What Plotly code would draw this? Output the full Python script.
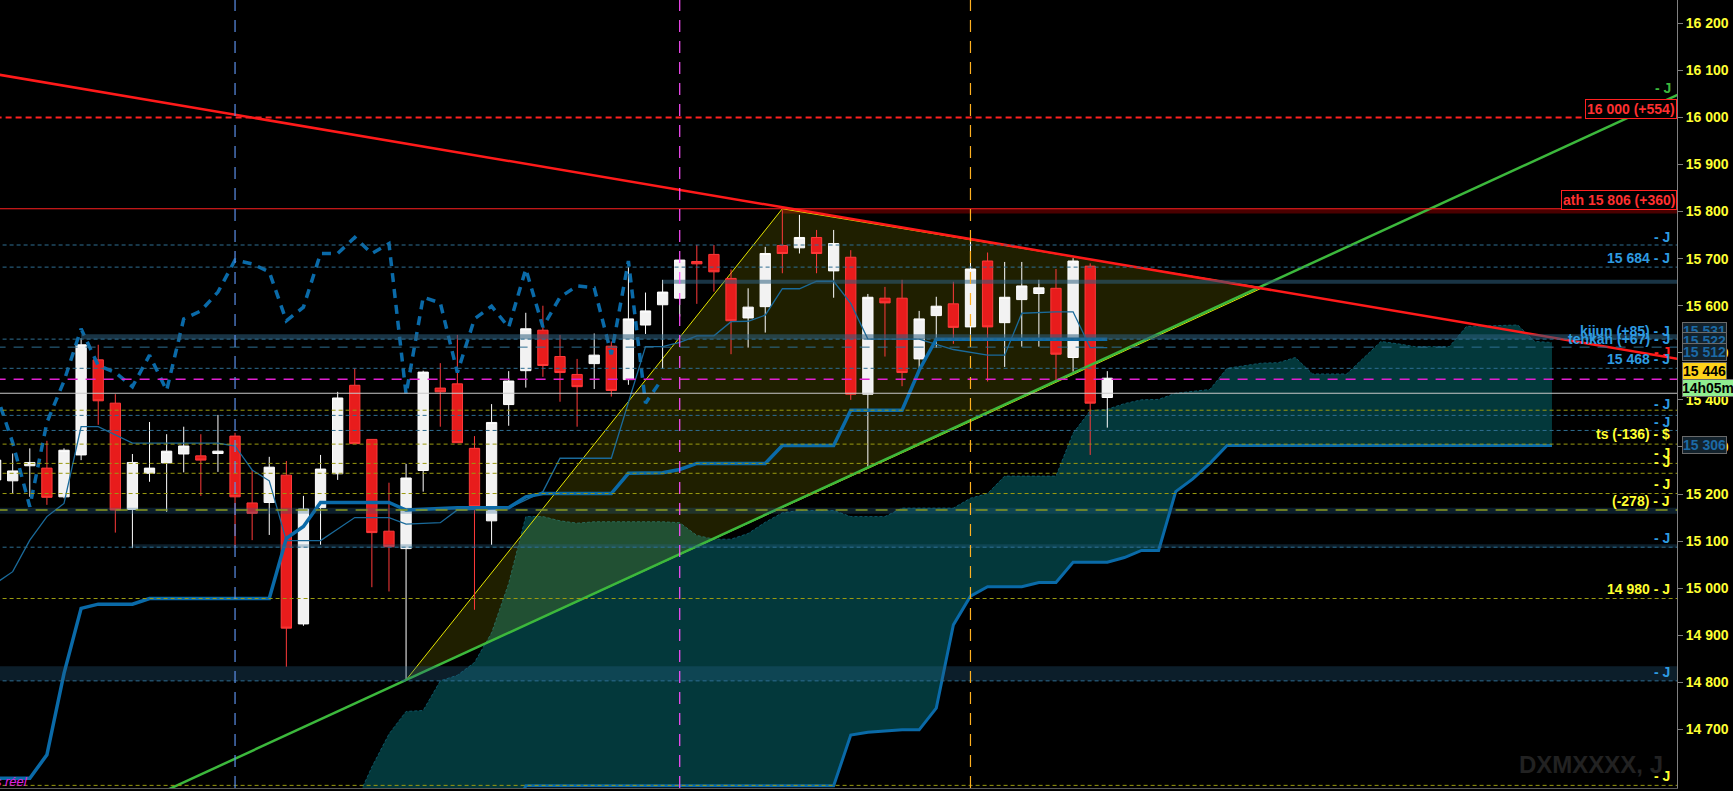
import plotly.graph_objects as go

# daily candles, index 0 = the bar cut off at the left edge
opens = [15230, 15228, 15260, 15255, 15194, 15283, 15485, 15393, 15167, 15244,
         15266, 15285, 15281, 15286, 15323, 15181, 15182, 15240, 14924, 15171,
         15243, 15431, 15316, 15121, 15084, 15250, 15425, 15434, 15297, 15143,
         15390, 15462, 15548, 15492, 15454, 15477, 15514, 15443, 15559, 15602,
         15616, 15694, 15709, 15658, 15574, 15598, 15728, 15723, 15745, 15674,
         15703, 15412, 15616, 15616, 15487, 15579, 15604, 15555, 15695, 15564,
         15613, 15626, 15637, 15490, 15684, 15405]
highs = [15290, 15286, 15297, 15313, 15297, 15531, 15517, 15412, 15285, 15353,
         15327, 15343, 15327, 15368, 15330, 15251, 15279, 15270, 15196, 15283,
         15417, 15467, 15316, 15224, 15264, 15462, 15478, 15538, 15323, 15391,
         15461, 15585, 15600, 15538, 15487, 15541, 15524, 15682, 15628, 15655,
         15697, 15729, 15729, 15677, 15637, 15725, 15803, 15793, 15761, 15761,
         15718, 15625, 15640, 15655, 15589, 15619, 15651, 15736, 15713, 15693,
         15693, 15655, 15678, 15701, 15690, 15461]
lows = [15220, 15201, 15194, 15177, 15191, 15272, 15347, 15118, 15085, 15226,
        15162, 15246, 15196, 15247, 15088, 15102, 15113, 14833, 14920, 15092,
        15230, 15307, 15002, 14993, 14805, 15205, 15343, 15309, 14954, 15092,
        15345, 15426, 15449, 15396, 15343, 15423, 15407, 15432, 15540, 15466,
        15577, 15604, 15630, 15497, 15511, 15543, 15669, 15711, 15669, 15617,
        15400, 15258, 15492, 15429, 15463, 15511, 15519, 15534, 15439, 15470,
        15513, 15513, 15442, 15460, 15283, 15341]
closes = [15272, 15249, 15267, 15193, 15293, 15517, 15398, 15166, 15267, 15255,
          15291, 15302, 15272, 15291, 15194, 15159, 15257, 14915, 15168, 15253,
          15404, 15307, 15118, 15088, 15234, 15459, 15417, 15309, 15173, 15352,
          15440, 15551, 15473, 15458, 15428, 15495, 15420, 15572, 15589, 15629,
          15697, 15689, 15672, 15568, 15597, 15711, 15711, 15745, 15711, 15732,
          15412, 15618, 15606, 15458, 15572, 15599, 15554, 15678, 15555, 15618,
          15642, 15638, 15497, 15695, 15393, 15446]
bars = list(range(len(opens)))

# ichimoku lines (bar index, value)
tenkan_x = [0, 1, 2, 3, 4, 5, 6, 8, 13, 14, 15, 16, 17, 19, 21, 23, 24, 26, 27, 30,
            32, 33, 36, 38, 39, 40, 41, 42, 43, 44, 45, 46, 47, 48, 49, 50, 51, 54,
            56, 58, 59, 60, 62, 63, 64, 65]
tenkan_y = [15010, 15035, 15102, 15152, 15180, 15343, 15343, 15308, 15308, 15302,
            15251, 15228, 15101, 15101, 15150, 15150, 15136, 15139, 15166, 15170,
            15205, 15276, 15276, 15513, 15513, 15522, 15536, 15536, 15566, 15567,
            15580, 15636, 15636, 15652, 15652, 15605, 15529, 15529, 15507, 15495,
            15495, 15584, 15587, 15587, 15511, 15511]
kijun_x = [0, 2, 3, 4, 5, 6, 8, 9, 16, 17, 18, 19, 23, 24, 27, 30, 31, 32, 36, 37,
           39, 40, 41, 45, 46, 49, 50, 53, 54, 55, 65]
kijun_y = [14596, 14596, 14646, 14819, 14957, 14966, 14966, 14978, 14978, 15106,
           15131, 15182, 15182, 15166, 15171, 15171, 15194, 15201, 15201, 15244,
           15245, 15252, 15265, 15265, 15303, 15303, 15378, 15378, 15463, 15529,
           15529]
span_a_x = [21, 22, 23, 24, 25, 26, 27, 28, 29, 30, 31, 32, 33, 34, 35, 39, 40, 41,
            42, 43, 44, 45, 46, 47, 49, 50, 52, 53, 56, 57, 58, 59, 62, 63, 64, 65,
            66, 67, 68, 69, 71, 72, 74, 75, 76, 77, 79, 81, 82, 83, 85, 86, 89, 90, 91]
span_a_y = [14540, 14620, 14690, 14738, 14740, 14803, 14815, 14842, 14905, 15010,
            15152, 15152, 15143, 15138, 15141, 15141, 15139, 15112, 15104, 15104,
            15116, 15140, 15160, 15165, 15165, 15152, 15152, 15170, 15170, 15191,
            15201, 15238, 15238, 15329, 15377, 15380, 15392, 15400, 15401, 15414,
            15422, 15467, 15478, 15479, 15490, 15455, 15455, 15524, 15519, 15513,
            15513, 15556, 15559, 15524, 15522]
span_b_x = [21, 30, 31, 49, 50, 51, 53, 54, 55, 56, 57, 58, 60, 61, 62, 63, 65, 66,
            67, 68, 69, 70, 71, 72, 91]
span_b_y = [14450, 14500, 14580, 14580, 14688, 14694, 14699, 14699, 14745, 14922,
            14983, 15003, 15003, 15012, 15012, 15055, 15055, 15065, 15080, 15080,
            15205, 15232, 15265, 15303, 15303]

# drawings
ath = 15806
target = 16000
red_trend_x = [0, 98.4]
red_trend_y = [16092, 15487]
green_trend_x = [9, 98.4]
green_trend_y = [14554, 16049]
triangle_x = [24, 46, 74.06, 24]
triangle_y = [14805, ath, 15638, 14805]
event_bars = [14, 40, 57]
event_colors = ["#5b8fe8", "#ff50ff", "#ffb020"]

blue_levels = [15729, 15682, 15529, 15467, 15367, 15335, 15087, 14803]
yellow_levels = [15378, 15306, 15265, 15244, 15201, 14978, 14581]
grey_level = 15414
magenta_level = 15444
blue_long_level = 15512
green_long_level = 15166

right_labels = [
    ("- J", 15745, "#2e9be0"), ("15 684 - J", 15701, "#2e9be0"),
    ("kijun (+85) - J", 15546, "#2e9be0"), ("tenkan (+67) - J", 15529, "#2e9be0"),
    ("- J", 15502, "#ff2020"), ("15 468 - J", 15487, "#2e9be0"),
    ("- J", 15391, "#2e9be0"), ("- J", 15354, "#2e9be0"),
    ("ts (-136) - $", 15327, "#ffff30"), ("- J", 15288, "#ffff30"),
    ("- J", 15267, "#ffff30"), ("- J", 15222, "#ffff30"),
    ("(-278) - J", 15185, "#ffff30"), ("- J", 15107, "#2e9be0"),
    ("14 980 - J", 14998, "#ffff30"), ("- J", 14822, "#2e9be0"),
    ("- J", 14601, "#ffff30"),
]
axis_boxes = [
    ("15 531", 15546, "#1c6aa5", "#13222c"), ("15 522", 15524, "#1c6aa5", "#13222c"),
    ("15 512", 15502, "#1c6aa5", "#13222c"), ("15 446", 15461, "#000000", "#ffd21a"),
    ("14h05m", 15425, "#000000", "#90ee90"), ("15 306", 15304, "#1c6aa5", "#13222c"),
]
tick_vals = list(range(14700, 16201, 100))
tick_text = [f"{v // 1000} {v % 1000:03d}" for v in tick_vals]

x_range = [0.2573, 98.31]
y_range = [14575.4, 16249.5]
x_end = x_range[1]
fig = go.Figure()

# cloud and triangle on the base axes (under the candles)
fig.add_trace(go.Scatter(x=span_b_x, y=span_b_y, mode="lines",
                         line=dict(color="#0a6aa8", width=3), hoverinfo="skip"))
fig.add_trace(go.Scatter(x=span_a_x, y=span_a_y, mode="lines", fill="tonexty",
                         fillcolor="#03383b", line=dict(color="#0d5566", width=1, dash="3px,2px"),
                         hoverinfo="skip"))
fig.add_trace(go.Scatter(x=triangle_x, y=triangle_y, mode="lines", fill="toself",
                         fillcolor="rgba(255,255,0,0.12)",
                         line=dict(color="#e6e600", width=1), hoverinfo="skip"))

# candles and lines on an overlay so they sit above the fills
fig.add_trace(go.Candlestick(
    x=bars, open=opens, high=highs, low=lows, close=closes, xaxis="x2", yaxis="y2",
    increasing=dict(fillcolor="#f2f2f2", line=dict(color="#ffffff", width=1)),
    decreasing=dict(fillcolor="#e81c1c", line=dict(color="#ff3a3a", width=1)),
    whiskerwidth=0, hoverinfo="skip"))
fig.add_trace(go.Scatter(x=green_trend_x, y=green_trend_y, mode="lines", xaxis="x2", yaxis="y2",
                         line=dict(color="#3cb83c", width=2.5), hoverinfo="skip"))
fig.add_trace(go.Scatter(x=red_trend_x, y=red_trend_y, mode="lines", xaxis="x2", yaxis="y2",
                         line=dict(color="#ff1a1a", width=2.5), hoverinfo="skip"))
fig.add_trace(go.Scatter(x=bars[:len(closes) - 26], y=closes[26:], mode="lines",
                         xaxis="x2", yaxis="y2",
                         line=dict(color="#0a6aa8", width=3.5, dash="9px,7px"),
                         hoverinfo="skip"))
fig.add_trace(go.Scatter(x=tenkan_x, y=tenkan_y, mode="lines", xaxis="x2", yaxis="y2",
                         line=dict(color="#1a6a9a", width=1.3), hoverinfo="skip"))
fig.add_trace(go.Scatter(x=kijun_x, y=kijun_y, mode="lines", xaxis="x2", yaxis="y2",
                         line=dict(color="#0a6aa8", width=3.5), hoverinfo="skip"))

shapes = []
# bands
shapes.append(dict(type="rect", x0=46, x1=x_end, y0=ath - 10, y1=ath, line_width=0,
                   fillcolor="#4a0000", layer="below"))
shapes.append(dict(type="line", x0=5, x1=x_end, y0=15534, y1=15534,
                   line=dict(color="rgba(45,95,125,0.55)", width=5)))
shapes.append(dict(type="line", x0=39, x1=x_end, y0=15651, y1=15651,
                   line=dict(color="rgba(45,95,125,0.55)", width=4)))
shapes.append(dict(type="rect", x0=0, x1=x_end, y0=15158, y1=15171, line_width=0,
                   fillcolor="rgba(40,100,140,0.3)"))
shapes.append(dict(type="rect", x0=8, x1=x_end, y0=15086, y1=15093, line_width=0,
                   fillcolor="rgba(40,100,140,0.3)"))
shapes.append(dict(type="rect", x0=0, x1=x_end, y0=14803, y1=14834, line_width=0,
                   fillcolor="rgba(40,100,140,0.3)"))
# levels
for v in blue_levels:
    shapes.append(dict(type="line", x0=0, x1=x_end, y0=v, y1=v,
                       line=dict(color="#2e6e92", width=1, dash="4px,3px")))
for v in yellow_levels:
    shapes.append(dict(type="line", x0=0, x1=x_end, y0=v, y1=v,
                       line=dict(color="#9a9a10", width=1, dash="4px,3px")))
shapes.append(dict(type="line", x0=0, x1=x_end, y0=blue_long_level, y1=blue_long_level,
                   line=dict(color="#2e6e92", width=1, dash="10px,8px")))
shapes.append(dict(type="line", x0=0, x1=x_end, y0=green_long_level, y1=green_long_level,
                   line=dict(color="#8a9a20", width=1.5, dash="12px,8px")))
shapes.append(dict(type="line", x0=0, x1=x_end, y0=magenta_level, y1=magenta_level,
                   line=dict(color="#e020d0", width=1.5, dash="10px,8px")))
shapes.append(dict(type="line", x0=0, x1=x_end, y0=grey_level, y1=grey_level,
                   line=dict(color="#c8c8c8", width=1.2)))
shapes.append(dict(type="line", x0=0, x1=x_end, y0=ath, y1=ath,
                   line=dict(color="#ff2020", width=1)))
shapes.append(dict(type="line", x0=0, x1=x_end, y0=target, y1=target,
                   line=dict(color="#ff2020", width=2, dash="6px,4px")))
for b, c in zip(event_bars, event_colors):
    shapes.append(dict(type="line", x0=b, x1=b, y0=0, y1=1, yref="paper",
                       line=dict(color=c, width=1.2, dash="12px,9px")))

annotations = []
for text, v, c in right_labels:
    annotations.append(dict(x=1, xref="paper", xanchor="right", xshift=-5, y=v,
                            yref="y", text=text, showarrow=False,
                            font=dict(color=c, size=14, family="Liberation Sans", weight="bold")))
annotations.append(dict(x=1, xref="paper", xanchor="right", xshift=-4, y=16062, yref="y",
                        text="- J", showarrow=False,
                        font=dict(color="#3cb83c", size=14, family="Liberation Sans",
                                  weight="bold")))
annotations.append(dict(x=1, xref="paper", xanchor="right", y=16018, yref="y",
                        text="16 000 (+554)", showarrow=False, bgcolor="#000000",
                        bordercolor="#ff2020", borderwidth=1, borderpad=1,
                        font=dict(color="#ff3030", size=14, family="Liberation Sans",
                                  weight="bold")))
annotations.append(dict(x=1, xref="paper", xanchor="right", y=15825, yref="y",
                        text="ath 15 806 (+360)", showarrow=False, bgcolor="#000000",
                        bordercolor="#ff2020", borderwidth=1, borderpad=1,
                        font=dict(color="#ff3030", size=14, family="Liberation Sans",
                                  weight="bold")))
for text, v, fc, bg in axis_boxes:
    annotations.append(dict(x=1, xref="paper", xanchor="left", xshift=5, y=v, yref="y",
                            text=text, showarrow=False, bgcolor=bg, bordercolor="#6a6a6a",
                            borderwidth=1, borderpad=0, width=50 if "h" in text else 43,
                            font=dict(color=fc, size=14, family="Liberation Sans",
                                      weight="bold")))
annotations.append(dict(x=1, xref="paper", xanchor="right", xshift=-12, y=14626, yref="y",
                        text="DXMXXXX, J", showarrow=False,
                        font=dict(color="#222222", size=24, family="Liberation Sans",
                                  weight="bold")))
annotations.append(dict(x=0, xref="paper", xanchor="right", xshift=30, y=14589, yref="y",
                        text="<i>temps réel</i>", showarrow=False,
                        font=dict(color="#e020e0", size=13, family="Liberation Sans")))

fig.update_layout(
    width=1733, height=791, autosize=False,
    margin=dict(l=0, r=56, t=0, b=3),
    paper_bgcolor="#000000", plot_bgcolor="#000000",
    showlegend=False, shapes=shapes, annotations=annotations,
    boxgap=0.14, hovermode=False,
    xaxis=dict(range=x_range, showgrid=False, zeroline=False,
               showticklabels=False, showline=True, linecolor="#5a5a5a",
               rangeslider=dict(visible=False)),
    yaxis=dict(range=y_range, side="right", showgrid=False, zeroline=False,
               tickvals=tick_vals, ticktext=tick_text, ticks="outside", ticklen=5,
               tickcolor="#808080", showline=True, linecolor="#808080",
               tickfont=dict(color="#ffff33", size=14, family="Liberation Sans",
                             weight="bold")),
    xaxis2=dict(range=x_range, overlaying="x", visible=False,
                rangeslider=dict(visible=False)),
    yaxis2=dict(range=y_range, overlaying="y", visible=False),
)

# the page's default 8px body margin would shift the chart
fig.write_html("out.html", config={"displayModeBar": False},
               post_script="document.body.style.margin='0';")
